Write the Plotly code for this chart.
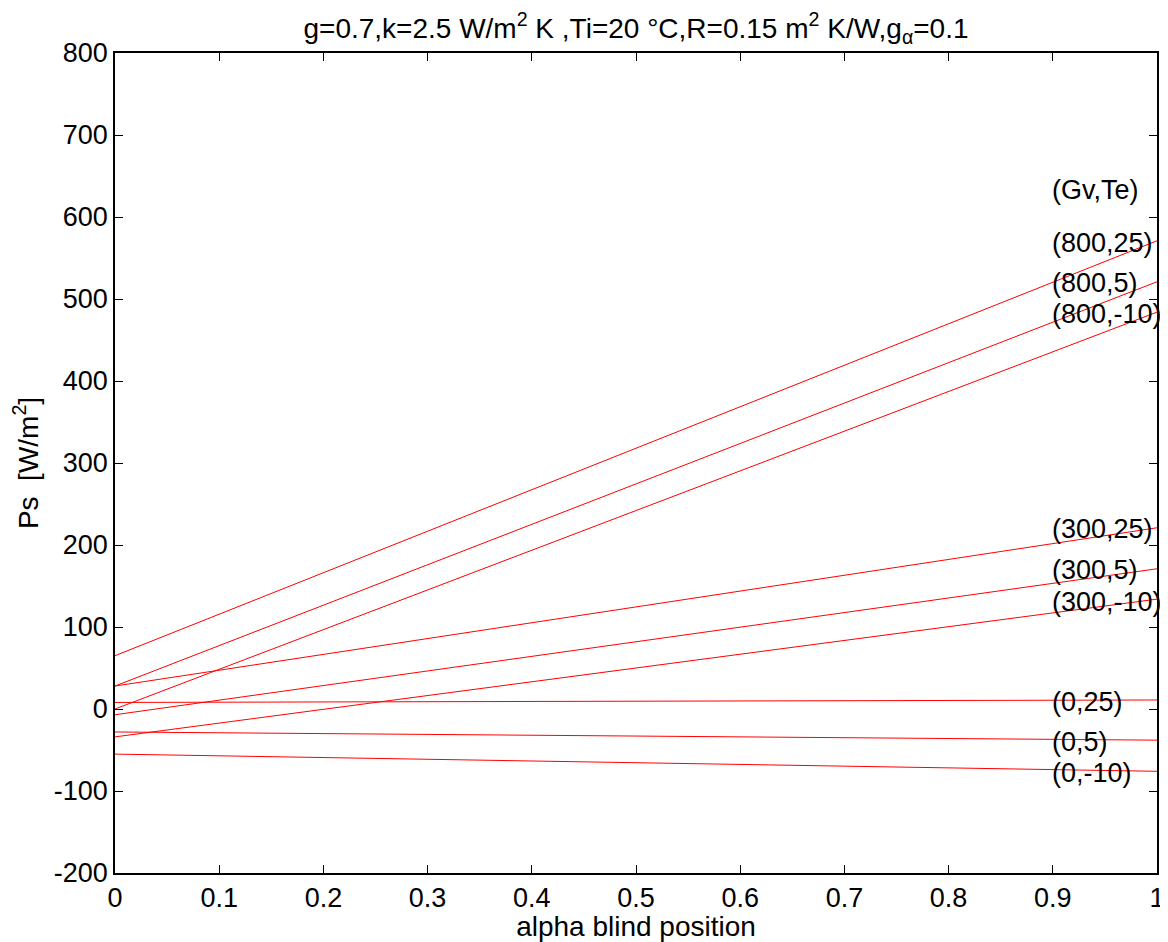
import plotly.graph_objects as go

alpha = [0, 1]
series_labels = ["(800,25)", "(800,5)", "(800,-10)", "(300,25)", "(300,5)", "(300,-10)", "(0,25)", "(0,5)", "(0,-10)"]
ps_start = [65, 28, 0, 28, -7, -34, 8, -28, -55]
ps_end = [571, 521, 484, 221, 171, 134, 11, -38, -76]
label_y = [568, 520, 482, 220, 170, 130, 9, -40, -78]
header_label = "(Gv,Te)"
header_y = 633

x_ticks = [0, 0.1, 0.2, 0.3, 0.4, 0.5, 0.6, 0.7, 0.8, 0.9, 1]
x_ticktext = ["0", "0.1", "0.2", "0.3", "0.4", "0.5", "0.6", "0.7", "0.8", "0.9", "1"]
y_ticks = [-200, -100, 0, 100, 200, 300, 400, 500, 600, 700, 800]
y_ticktext = ["-200", "-100", "0", "100", "200", "300", "400", "500", "600", "700", "800"]

FS_TICK = 27
FS_LABEL = 27
FS_TITLE = 28

fig = go.Figure()
for name, a, b in zip(series_labels, ps_start, ps_end):
    fig.add_trace(go.Scatter(x=alpha, y=[a, b], mode="lines", name=name,
                             line=dict(color="#ff0000", width=1), showlegend=False))

font_family = "Liberation Sans, Arial, sans-serif"
fig.add_annotation(x=0.898, y=header_y, text=header_label, showarrow=False,
                   xanchor="left", yanchor="middle", borderpad=0,
                   font=dict(size=FS_LABEL, color="black"))
for name, y in zip(series_labels, label_y):
    fig.add_annotation(x=0.898, y=y, text=name, showarrow=False,
                       xanchor="left", yanchor="middle", borderpad=0,
                       font=dict(size=FS_LABEL, color="black"))

axis_common = dict(showline=True, linecolor="black", linewidth=1.5, mirror="allticks",
                   ticks="inside", ticklen=8, tickcolor="black", showgrid=False, zeroline=False,
                   automargin=False, tickfont=dict(size=FS_TICK, color="black"))
fig.update_xaxes(range=[0, 1], tickvals=x_ticks, ticktext=x_ticktext,
                 title=dict(text="alpha blind position", font=dict(size=28, color="black"), standoff=4),
                 **axis_common)
fig.update_yaxes(range=[-200, 800], tickvals=y_ticks, ticktext=y_ticktext,
                 title=dict(text="Ps  [W/m<sup>2</sup>]", font=dict(size=28, color="black"), standoff=12),
                 **axis_common)

fig.update_layout(
    width=1160, height=934,
    plot_bgcolor="white", paper_bgcolor="white",
    font=dict(family=font_family, color="black"),
    margin=dict(l=107, r=11, t=45, b=69),
    title=dict(text="g=0.7,k=2.5 W/m<sup>2</sup> K ,Ti=20 °C,R=0.15 m<sup>2</sup> K/W,g<sub>α</sub>=0.1",
               x=0.5, xref="paper", xanchor="center", y=0.9786, yref="container", yanchor="middle",
               font=dict(size=FS_TITLE, color="black")),
)

fig.write_html("out.html")
